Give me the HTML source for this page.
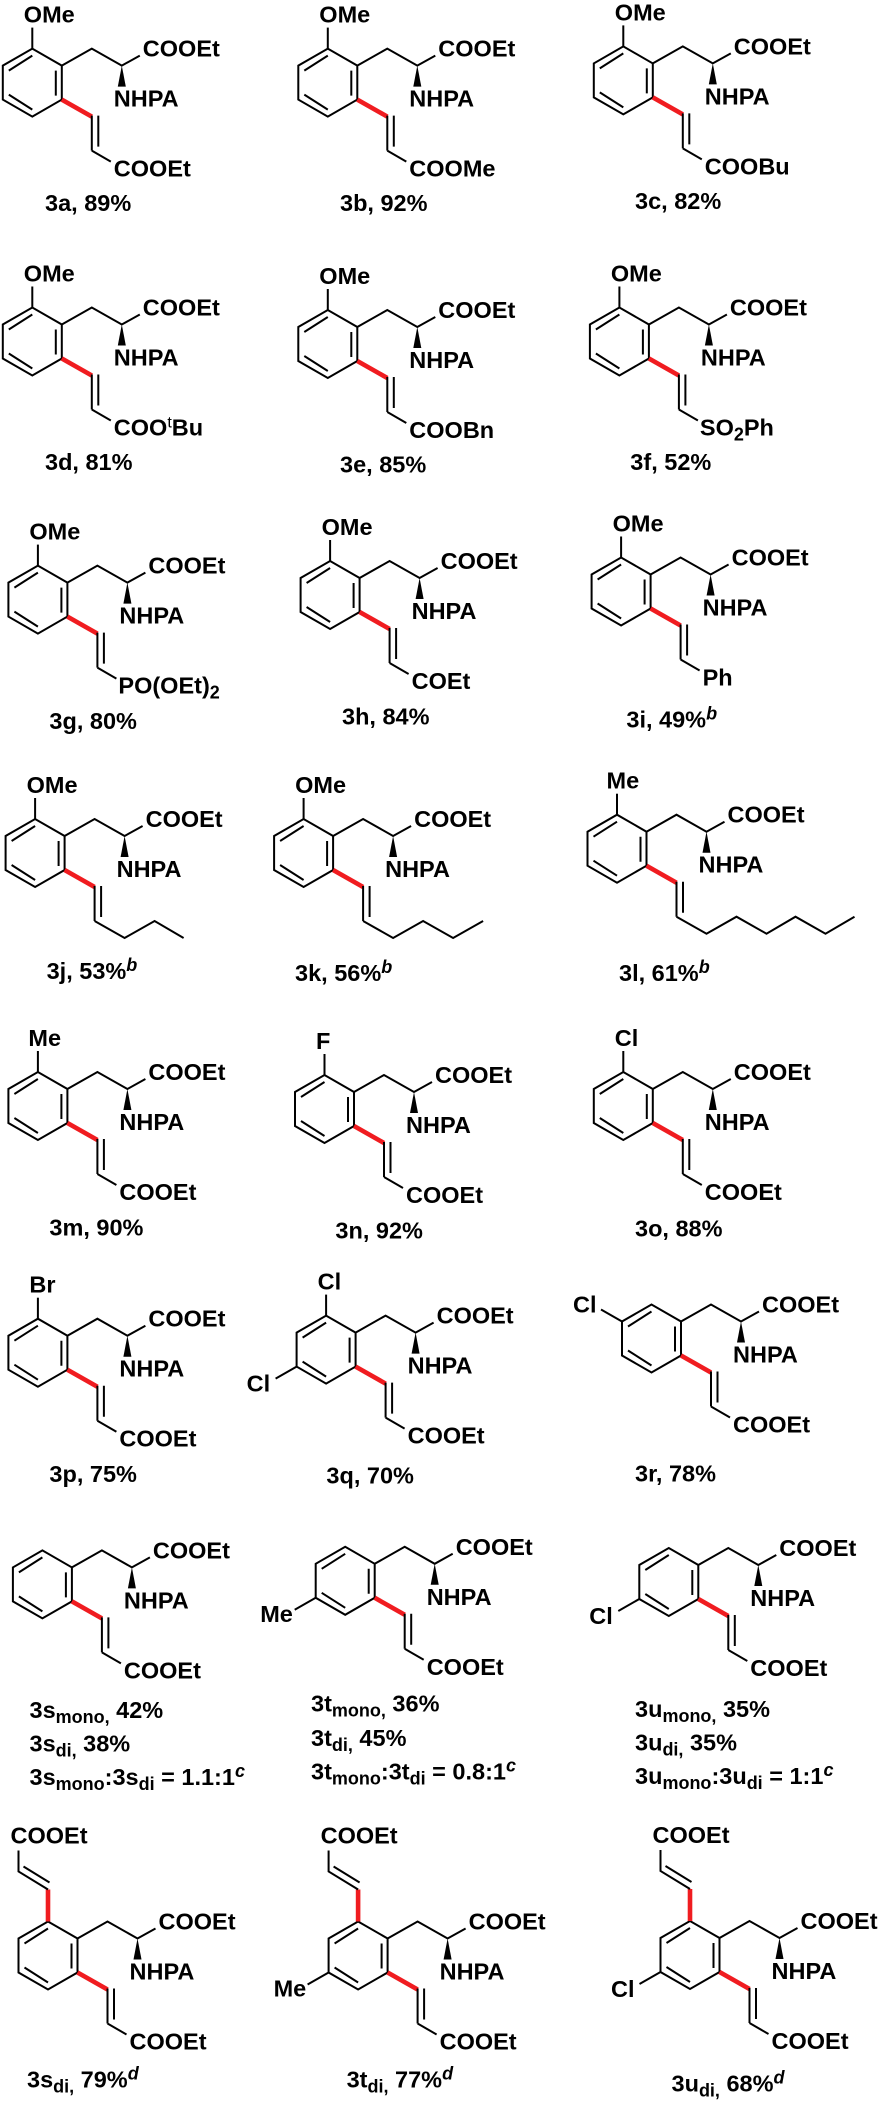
<!DOCTYPE html>
<html><head><meta charset="utf-8"><style>
html,body{margin:0;padding:0;background:#fff}
svg{display:block}
text{font:bold 23.5px "Liberation Sans",Arial,sans-serif;fill:#000;white-space:pre}
.s{font-size:18px}
.t{font-size:16px;font-weight:normal}
.i{font-size:18px;font-style:italic}
.l{fill:none;stroke:#000;stroke-width:2;stroke-linejoin:miter}
.r{fill:none;stroke:#f01c20;stroke-width:4.6}
</style></head><body>
<svg width="881" height="2101" viewBox="0 0 881 2101" xmlns="http://www.w3.org/2000/svg">
<defs>
<g id="c">
<path class="l" d="M0,0L0,34L-29.5,51L-59,34L-59,0L-29.5,-17ZM-53,5L-29.5,-10M-6,5L-6,30M-53,29L-29.5,44M0,0L30,-17L60,0L78,-10"/>
<polygon points="60,0 56,21 64,21" fill="#000"/>
<path class="r" d="M0,34L30,51"/>
<path class="l" d="M30,50V85M36.5,50V81"/>
</g>
<path id="e" class="l" d="M30,85L49,96"/>
<path id="o" class="l" d="M-29.5,-17V-38"/>
<g id="d"><path class="r" d="M-29.5,-17V-49"/><path class="l" d="M-29.5,-49L-59,-67V-88M-54,-72L-28,-56"/></g>
<path id="x" class="l" d="M-59,34L-80,46"/>
</defs>

<g transform="translate(61.8,65.6)"><use href="#c"/><use href="#e"/><use href="#o"/><text x="-38" y="-43">OMe</text><text x="81" y="-9">COOEt</text><text x="52" y="41">NHPA</text><text x="52" y="111">COOEt</text></g>
<text x="45" y="211">3a, 89%</text>
<g transform="translate(357.3,65.6)"><use href="#c"/><use href="#e"/><use href="#o"/><text x="-38" y="-43">OMe</text><text x="81" y="-9">COOEt</text><text x="52" y="41">NHPA</text><text x="52" y="111">COOMe</text></g>
<text x="340" y="211">3b, 92%</text>
<g transform="translate(652.8,63.4)"><use href="#c"/><use href="#e"/><use href="#o"/><text x="-38" y="-43">OMe</text><text x="81" y="-9">COOEt</text><text x="52" y="41">NHPA</text><text x="52" y="111">COOBu</text></g>
<text x="635" y="209">3c, 82%</text>

<g transform="translate(61.8,324.5)"><use href="#c"/><use href="#e"/><use href="#o"/><text x="-38" y="-43">OMe</text><text x="81" y="-9">COOEt</text><text x="52" y="41">NHPA</text><text x="52" y="111">COO<tspan class="t" dy="-8">t</tspan><tspan dy="8">Bu</tspan></text></g>
<text x="45" y="470">3d, 81%</text>
<g transform="translate(357.3,327)"><use href="#c"/><use href="#e"/><use href="#o"/><text x="-38" y="-43">OMe</text><text x="81" y="-9">COOEt</text><text x="52" y="41">NHPA</text><text x="52" y="111">COOBn</text></g>
<text x="340" y="472.3">3e, 85%</text>
<g transform="translate(648.9,324.5)"><use href="#c"/><use href="#e"/><use href="#o"/><text x="-38" y="-43">OMe</text><text x="81" y="-9">COOEt</text><text x="52" y="41">NHPA</text><text x="51" y="111">SO<tspan class="s" dy="5">2</tspan><tspan dy="-5">Ph</tspan></text></g>
<text x="630.3" y="470">3f, 52%</text>

<g transform="translate(67.4,582.6)"><use href="#c"/><use href="#e"/><use href="#o"/><text x="-38" y="-43">OMe</text><text x="81" y="-9">COOEt</text><text x="52" y="41">NHPA</text><text x="51" y="111">PO(OEt)<tspan class="s" dy="5">2</tspan></text></g>
<text x="49.4" y="729">3g, 80%</text>
<g transform="translate(359.6,578)"><use href="#c"/><use href="#e"/><use href="#o"/><text x="-38" y="-43">OMe</text><text x="81" y="-9">COOEt</text><text x="52" y="41">NHPA</text><text x="52" y="111">COEt</text></g>
<text x="342" y="724.6">3h, 84%</text>
<g transform="translate(650.6,574.5)"><use href="#c"/><use href="#e"/><use href="#o"/><text x="-38" y="-43">OMe</text><text x="81" y="-9">COOEt</text><text x="52" y="41">NHPA</text><text x="52" y="111">Ph</text></g>
<text x="626.4" y="727.7">3i, 49%<tspan class="i" dy="-8">b</tspan></text>

<g transform="translate(64.6,836)"><use href="#c"/><use href="#o"/><path class="l" d="M30,85L60,102L90,85L119,102"/><text x="-38" y="-43">OMe</text><text x="81" y="-9">COOEt</text><text x="52" y="41">NHPA</text></g>
<text x="46.6" y="979">3j, 53%<tspan class="i" dy="-8">b</tspan></text>
<g transform="translate(333.1,836)"><use href="#c"/><use href="#o"/><path class="l" d="M30,85L60,102L90,85L120,102L150,85"/><text x="-38" y="-43">OMe</text><text x="81" y="-9">COOEt</text><text x="52" y="41">NHPA</text></g>
<text x="295" y="981">3k, 56%<tspan class="i" dy="-8">b</tspan></text>
<g transform="translate(646.5,831.7)"><use href="#c"/><use href="#o"/><path class="l" d="M30,85L60,102L90,85L120,102L149,85L179,102L208,85"/><text x="-40" y="-43">Me</text><text x="81" y="-9">COOEt</text><text x="52" y="41">NHPA</text></g>
<text x="619" y="981">3l, 61%<tspan class="i" dy="-8">b</tspan></text>

<g transform="translate(67.4,1089)"><use href="#c"/><use href="#e"/><use href="#o"/><text x="-39" y="-43">Me</text><text x="81" y="-9">COOEt</text><text x="52" y="41">NHPA</text><text x="52" y="111">COOEt</text></g>
<text x="49.4" y="1235.7">3m, 90%</text>
<g transform="translate(354,1092)"><use href="#c"/><use href="#e"/><use href="#o"/><text x="-38" y="-43">F</text><text x="81" y="-9">COOEt</text><text x="52" y="41">NHPA</text><text x="52" y="111">COOEt</text></g>
<text x="335.4" y="1238.4">3n, 92%</text>
<g transform="translate(652.8,1089)"><use href="#c"/><use href="#e"/><use href="#o"/><text x="-38" y="-43">Cl</text><text x="81" y="-9">COOEt</text><text x="52" y="41">NHPA</text><text x="52" y="111">COOEt</text></g>
<text x="635" y="1236.7">3o, 88%</text>

<g transform="translate(67.4,1335.7)"><use href="#c"/><use href="#e"/><use href="#o"/><text x="-38" y="-43">Br</text><text x="81" y="-9">COOEt</text><text x="52" y="41">NHPA</text><text x="52" y="111">COOEt</text></g>
<text x="49.4" y="1482">3p, 75%</text>
<g transform="translate(355.6,1332.6)"><use href="#c"/><use href="#e"/><use href="#o"/><use href="#x"/><text x="-38" y="-43">Cl</text><text x="-109" y="59">Cl</text><text x="81" y="-9">COOEt</text><text x="52" y="41">NHPA</text><text x="52" y="111">COOEt</text></g>
<text x="326.4" y="1483.5">3q, 70%</text>
<g transform="translate(681,1321.5)"><use href="#c"/><use href="#e"/><path class="l" d="M-59,0L-80,-12"/><text x="-108" y="-9">Cl</text><text x="81" y="-9">COOEt</text><text x="52" y="41">NHPA</text><text x="52" y="111">COOEt</text></g>
<text x="635" y="1481.7">3r, 78%</text>

<g transform="translate(71.9,1567.4)"><use href="#c"/><use href="#e"/><text x="81" y="-9">COOEt</text><text x="52" y="41">NHPA</text><text x="52" y="111">COOEt</text></g>
<text x="29.5" y="1718">3s<tspan class="s" dy="5">mono,</tspan><tspan dy="-5"> 42%</tspan></text>
<text x="29.5" y="1751.7">3s<tspan class="s" dy="5">di,</tspan><tspan dy="-5"> 38%</tspan></text>
<text x="29.5" y="1785">3s<tspan class="s" dy="5">mono</tspan><tspan dy="-5">:3s</tspan><tspan class="s" dy="5">di</tspan><tspan dy="-5"> = 1.1:1</tspan><tspan class="i" dy="-8">c</tspan></text>
<g transform="translate(374.7,1563.8)"><use href="#c"/><use href="#e"/><use href="#x"/><text x="-114.5" y="58">Me</text><text x="81" y="-9">COOEt</text><text x="52" y="41">NHPA</text><text x="52" y="111">COOEt</text></g>
<text x="311" y="1711.6">3t<tspan class="s" dy="5">mono,</tspan><tspan dy="-5"> 36%</tspan></text>
<text x="311" y="1746">3t<tspan class="s" dy="5">di,</tspan><tspan dy="-5"> 45%</tspan></text>
<text x="311" y="1779.5">3t<tspan class="s" dy="5">mono</tspan><tspan dy="-5">:3t</tspan><tspan class="s" dy="5">di</tspan><tspan dy="-5"> = 0.8:1</tspan><tspan class="i" dy="-8">c</tspan></text>
<g transform="translate(698.3,1565)"><use href="#c"/><use href="#e"/><use href="#x"/><text x="-109" y="59">Cl</text><text x="81" y="-9">COOEt</text><text x="52" y="41">NHPA</text><text x="52" y="111">COOEt</text></g>
<text x="635" y="1717">3u<tspan class="s" dy="5">mono,</tspan><tspan dy="-5"> 35%</tspan></text>
<text x="635" y="1750.4">3u<tspan class="s" dy="5">di,</tspan><tspan dy="-5"> 35%</tspan></text>
<text x="635" y="1784">3u<tspan class="s" dy="5">mono</tspan><tspan dy="-5">:3u</tspan><tspan class="s" dy="5">di</tspan><tspan dy="-5"> = 1:1</tspan><tspan class="i" dy="-8">c</tspan></text>

<g transform="translate(77.5,1938.5)"><use href="#c"/><use href="#e"/><use href="#d"/><text x="-67" y="-95">COOEt</text><text x="81" y="-9">COOEt</text><text x="52" y="41">NHPA</text><text x="52" y="111">COOEt</text></g>
<text x="27" y="2087.5">3s<tspan class="s" dy="5">di,</tspan><tspan dy="-5"> 79%</tspan><tspan class="i" dy="-8">d</tspan></text>
<g transform="translate(387.6,1938.5)"><use href="#c"/><use href="#e"/><use href="#d"/><use href="#x"/><text x="-114" y="58">Me</text><text x="-67" y="-95">COOEt</text><text x="81" y="-9">COOEt</text><text x="52" y="41">NHPA</text><text x="52" y="111">COOEt</text></g>
<text x="346.6" y="2087.5">3t<tspan class="s" dy="5">di,</tspan><tspan dy="-5"> 77%</tspan><tspan class="i" dy="-8">d</tspan></text>
<g transform="translate(719.5,1938)"><use href="#c"/><use href="#e"/><use href="#d"/><use href="#x"/><text x="-108.5" y="59">Cl</text><text x="-67" y="-95">COOEt</text><text x="81" y="-9">COOEt</text><text x="52" y="41">NHPA</text><text x="52" y="111">COOEt</text></g>
<text x="671.5" y="2091.7">3u<tspan class="s" dy="5">di,</tspan><tspan dy="-5"> 68%</tspan><tspan class="i" dy="-8">d</tspan></text>
</svg>
</body></html>
